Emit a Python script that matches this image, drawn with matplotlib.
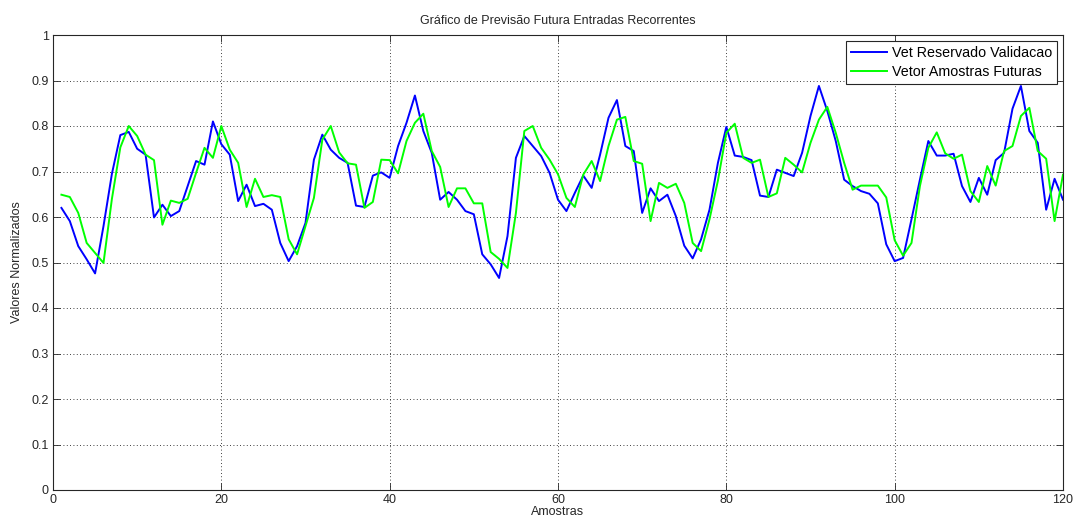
import numpy as np
import matplotlib
matplotlib.use('Agg')
import matplotlib.pyplot as plt
from matplotlib.ticker import FixedLocator

plt.rcParams['font.family'] = ['Liberation Sans', 'DejaVu Sans']

# Dados (amostras 1..120)
amostras = np.arange(1, 121)

vet_reservado = [
    0.620, 0.591, 0.536, 0.507, 0.476, 0.580, 0.695, 0.780, 0.787, 0.750,
    0.737, 0.599, 0.627, 0.602, 0.613, 0.668, 0.723, 0.715, 0.810, 0.760,
    0.737, 0.635, 0.671, 0.624, 0.629, 0.616, 0.543, 0.503, 0.536, 0.587,
    0.726, 0.781, 0.748, 0.730, 0.719, 0.625, 0.622, 0.691, 0.698, 0.686,
    0.756, 0.807, 0.867, 0.789, 0.741, 0.638, 0.655, 0.638, 0.613, 0.606,
    0.518, 0.496, 0.466, 0.558, 0.730, 0.778, 0.756, 0.734, 0.697, 0.638,
    0.613, 0.653, 0.691, 0.664, 0.737, 0.818, 0.857, 0.756, 0.745, 0.609,
    0.663, 0.635, 0.649, 0.602, 0.537, 0.509, 0.551, 0.616, 0.719, 0.798,
    0.735, 0.732, 0.725, 0.647, 0.644, 0.704, 0.697, 0.690, 0.741, 0.822,
    0.888, 0.833, 0.767, 0.682, 0.668, 0.657, 0.651, 0.630, 0.540, 0.503,
    0.510, 0.595, 0.682, 0.767, 0.735, 0.735, 0.739, 0.668, 0.633, 0.686,
    0.649, 0.725, 0.741, 0.838, 0.888, 0.789, 0.763, 0.616, 0.684, 0.638,
]

vet_futuras = [
    0.649, 0.644, 0.609, 0.543, 0.521, 0.499, 0.640, 0.753, 0.800, 0.778,
    0.737, 0.725, 0.583, 0.636, 0.631, 0.640, 0.697, 0.752, 0.730, 0.800,
    0.748, 0.719, 0.622, 0.684, 0.644, 0.648, 0.644, 0.551, 0.518, 0.580,
    0.642, 0.770, 0.800, 0.742, 0.718, 0.715, 0.620, 0.633, 0.726, 0.725,
    0.696, 0.767, 0.807, 0.827, 0.745, 0.710, 0.622, 0.663, 0.663, 0.630,
    0.630, 0.523, 0.508, 0.488, 0.609, 0.789, 0.800, 0.752, 0.726, 0.694,
    0.642, 0.622, 0.693, 0.723, 0.679, 0.756, 0.814, 0.820, 0.723, 0.717,
    0.591, 0.675, 0.664, 0.673, 0.631, 0.543, 0.525, 0.595, 0.680, 0.785,
    0.805, 0.730, 0.719, 0.726, 0.644, 0.652, 0.730, 0.715, 0.698, 0.763,
    0.814, 0.842, 0.785, 0.719, 0.660, 0.669, 0.669, 0.669, 0.643, 0.549,
    0.515, 0.543, 0.668, 0.752, 0.786, 0.740, 0.728, 0.737, 0.657, 0.633,
    0.712, 0.669, 0.745, 0.756, 0.822, 0.840, 0.745, 0.728, 0.591, 0.693,
]

xticks = [0, 20, 40, 60, 80, 100, 120]
yticks = [0, 0.1, 0.2, 0.3, 0.4, 0.5, 0.6, 0.7, 0.8, 0.9, 1]
ytick_labels = ['0', '0.1', '0.2', '0.3', '0.4', '0.5', '0.6', '0.7', '0.8', '0.9', '1']

fig = plt.figure(figsize=(10.78, 5.26), dpi=100)
ax = fig.add_axes([53/1078, 1 - 490/526, 1010/1078, 455/526])

ax.plot(amostras, vet_reservado, color=(0, 0, 1), lw=1.4, label='Vet Reservado Validacao')
ax.plot(amostras, vet_futuras, color=(0, 1, 0), lw=1.4, label='Vetor Amostras Futuras')

ax.set_xlim(0, 120)
ax.set_ylim(0, 1)
ax.xaxis.set_major_locator(FixedLocator(xticks))
ax.set_yticks(yticks)
ax.set_yticklabels(ytick_labels)
ax.tick_params(direction='in', top=True, right=True, length=5, width=0.6,
               labelsize=9, colors='#262626', pad=3)
ax.grid(True, linestyle=(0, (1, 3)), color='black', lw=0.6)
for s in ax.spines.values():
    s.set_color('#262626')
    s.set_linewidth(0.8)

ax.set_title('Gráfico de Previsão Futura Entradas Recorrentes', fontsize=9, color='#262626', pad=8)
ax.set_xlabel('Amostras', fontsize=9, color='#262626', labelpad=0)
ax.set_ylabel('Valores Normalizados', fontsize=9, color='#262626', labelpad=6)

leg = ax.legend(loc='upper right', fontsize=10.3, fancybox=False, framealpha=1,
                edgecolor='#262626', borderaxespad=0.4, handlelength=2.5,
                handletextpad=0.35, labelspacing=0.35, borderpad=0.35)
leg.get_frame().set_linewidth(0.8)

fig.savefig('out.png', dpi=100)
